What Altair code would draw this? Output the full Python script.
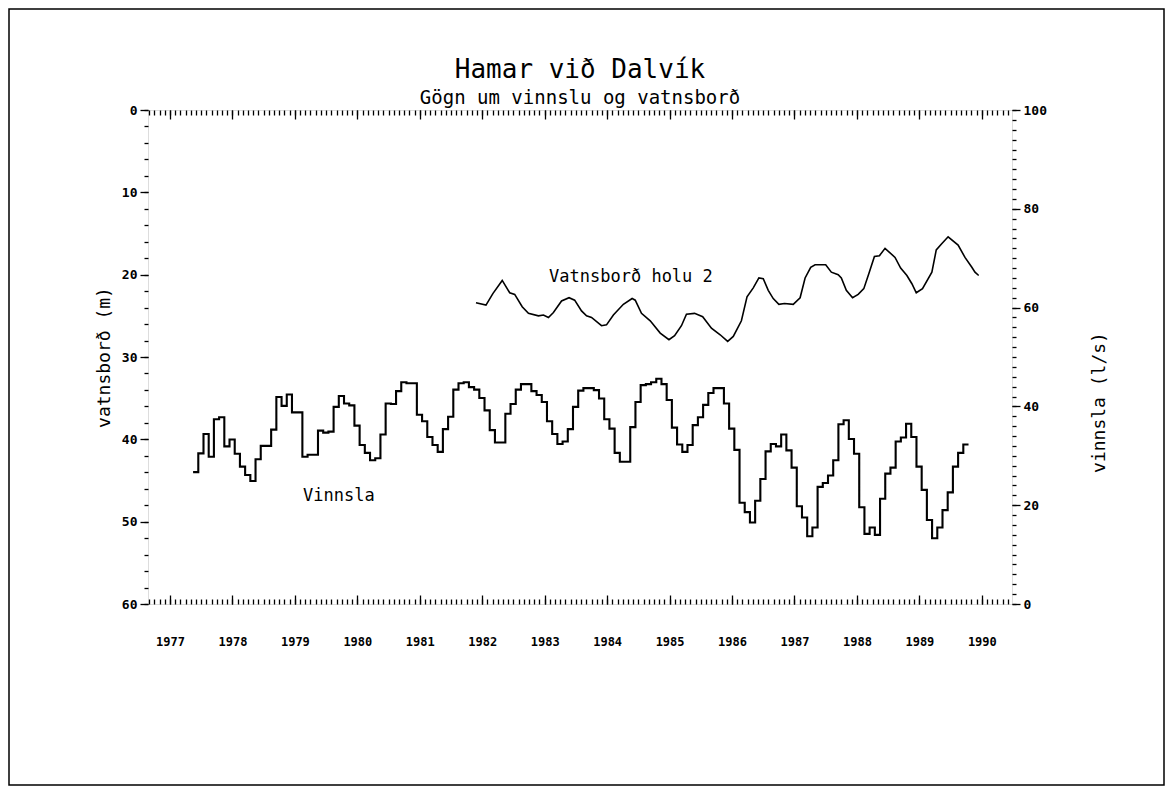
import altair as alt
import pandas as pd

TITLE = "Hamar við Dalvík"
SUBTITLE = "Gögn um vinnslu og vatnsborð"
LEFT_TITLE = "vatnsborð (m)"
RIGHT_TITLE = "vinnsla (l/s)"
LABEL_VB = "Vatnsborð holu 2"
LABEL_VIN = "Vinnsla"

YEARS = list(range(1977, 1991))
X_DOMAIN = [1976.648, 1990.483]
DEPTH_TICKS = [0, 10, 20, 30, 40, 50, 60]
FLOW_TICKS = [0, 20, 40, 60, 80, 100]

# Monthly production (l/s), first month May 1977
VIN_START = 1977.37
VINNSLA = [
    26.7, 30.5, 34.4, 29.8, 37.4, 37.8, 31.9, 33.3, 30.4, 27.8, 26.1, 24.9,
    29.3, 32.0, 32.0, 35.3, 41.9, 40.1, 42.4, 38.8, 38.8, 29.8, 30.2, 30.2,
    35.1, 34.7, 34.9, 39.9, 42.1, 40.6, 40.2, 36.1, 32.2, 30.6, 29.1, 29.5,
    34.3, 40.6, 40.5, 43.1, 44.9, 44.7, 44.7, 38.3, 37.0, 33.8, 32.2, 30.8,
    35.4, 37.9, 43.4,
    44.7, 44.9, 43.9, 43.4, 41.7, 39.2, 35.2, 32.7, 32.7, 38.5, 40.5, 43.4,
    44.5, 44.5, 43.1, 42.3, 40.9, 37.0, 34.4, 32.4, 32.9, 35.4, 39.9, 43.2,
    43.7, 43.7, 43.3, 41.6, 37.4, 35.5, 30.6, 28.8, 28.8, 35.8, 40.9, 44.3,
    44.5, 44.9, 45.6, 44.5, 41.3, 35.7, 32.3, 30.8, 32.2, 36.2, 37.8, 40.3,
    42.7, 43.7, 43.7, 40.6, 35.5, 31.2,
    20.5, 18.6, 16.5, 20.9, 25.3, 30.9, 32.4, 31.9, 34.3, 31.1, 27.6, 19.8,
    17.5, 13.7, 15.5, 23.7, 24.5, 26.0, 29.1, 36.4, 37.2, 33.4, 30.4, 19.6,
    14.2, 15.5, 14.0, 21.3, 26.4, 27.6, 32.9, 33.7, 36.5, 33.8, 27.8, 23.1,
    17.0, 13.3, 15.5, 19.0, 22.6, 27.8, 30.6, 32.3,
]

# Water level in well 2 (m below surface)
VB_T = [
    1981.90, 1982.06, 1982.17, 1982.32, 1982.44, 1982.52, 1982.64, 1982.74,
    1982.90, 1982.98, 1983.06, 1983.14, 1983.27, 1983.39, 1983.48, 1983.59, 1983.67, 1983.75,
    1983.91, 1983.99, 1984.10, 1984.26, 1984.40, 1984.45, 1984.55, 1984.69, 1984.85,
    1984.99, 1985.08, 1985.19, 1985.27, 1985.40, 1985.53, 1985.67, 1985.81,
    1985.93, 1986.02, 1986.15, 1986.24, 1986.34, 1986.43, 1986.50, 1986.58, 1986.66, 1986.75, 1986.84,
    1986.98, 1987.09, 1987.17, 1987.26, 1987.33, 1987.50, 1987.59, 1987.70, 1987.75, 1987.83,
    1987.93, 1988.02, 1988.11, 1988.19, 1988.28, 1988.36, 1988.45, 1988.61, 1988.70, 1988.80, 1988.88,
    1988.95, 1989.05, 1989.20, 1989.27, 1989.35, 1989.46, 1989.62, 1989.73, 1989.84, 1989.89,
    1989.95,
]
VB_D = [
    23.4, 23.7, 22.3, 20.7, 22.2, 22.4, 23.9, 24.7,
    25.0, 24.9, 25.2, 24.6, 23.2, 22.8, 23.1, 24.4, 25.0, 25.2,
    26.2, 26.1, 24.9, 23.6, 22.9, 23.1, 24.7, 25.6, 27.1,
    27.9, 27.4, 26.2, 24.8, 24.7, 25.1, 26.5, 27.3,
    28.1, 27.5, 25.6, 22.7, 21.6, 20.4, 20.5, 21.9, 22.9, 23.6, 23.5,
    23.6, 22.8, 20.4, 19.1, 18.8, 18.8, 19.7, 20.0, 20.4, 21.9,
    22.8, 22.4, 21.7, 19.9, 17.8, 17.7, 16.8, 17.9, 19.2, 20.1, 21.1,
    22.2, 21.7, 19.7, 17.0, 16.3, 15.4, 16.4, 17.9, 19.1, 19.7,
    20.1,
]

# in-chart labels (data coordinates: year, depth in m)
LABEL_VB_POS = (1983.07, 20.3)
LABEL_VIN_POS = (1979.13, 46.9)

FONT = "DejaVu Sans Mono"

# ---- data tables ----
vin_t = [round(VIN_START + i / 12.0, 4) for i in range(len(VINNSLA) + 1)]
vin_df = pd.DataFrame({"t": vin_t, "q": VINNSLA + [VINNSLA[-1]]})
vb_df = pd.DataFrame({"t": VB_T, "d": VB_D})
month_ticks = [round(1977 + k / 12.0, 4) for k in range(-6, 172)
               if X_DOMAIN[0] <= 1977 + k / 12.0 <= X_DOMAIN[1]]
depth_minor = list(range(0, 61, 2))
flow_minor = list(range(0, 101, 2))

xs = alt.Scale(domain=X_DOMAIN, nice=False, zero=False)
ys_flow = alt.Scale(domain=[0, 100], nice=False, zero=True)
ys_depth = alt.Scale(domain=[0, 60], nice=False, reverse=True)

tick_font = dict(labelFont=FONT, labelFontSize=13, labelFontWeight="bold",
                 labelColor="black", tickColor="black", tickWidth=1.3,
                 domain=False, grid=False)
title_font = dict(titleFont=FONT, titleFontSize=18, titleFontWeight="normal",
                  titleColor="black")

vin = alt.Chart(vin_df).mark_line(interpolate="step-after", color="black",
                                  strokeWidth=2.1).encode(
    x=alt.X("t:Q", scale=xs, axis=alt.Axis(
        orient="bottom", values=YEARS, format="d", tickSize={"expr": "-9"},
        labelAlign="center", labelBaseline="top", labelPadding=41,
        labelFlush=False, labelOverlap=False, title=None,
        **{**tick_font, "labelFontSize": 12})),
    y=alt.Y("q:Q", scale=ys_flow, axis=alt.Axis(
        orient="right", values=FLOW_TICKS, tickSize=8, labelPadding=3,
        labelOverlap=False, title=RIGHT_TITLE, titleAngle=270, titleY=292,
        titlePadding=62, **title_font, **tick_font)),
)

vb = alt.Chart(vb_df).mark_line(color="black", strokeWidth=1.6).encode(
    x=alt.X("t:Q", scale=xs, axis=alt.Axis(
        orient="top", values=YEARS, tickSize={"expr": "-9"}, labels=False,
        title=None, **tick_font)),
    y=alt.Y("d:Q", scale=ys_depth, axis=alt.Axis(
        orient="left", values=DEPTH_TICKS, tickSize=8, labelPadding=3,
        labelOverlap=False, title=LEFT_TITLE, titlePadding=8,
        **title_font, **tick_font)),
)

minor_a = alt.Chart(vb_df).mark_point(opacity=0).encode(
    x=alt.X("t:Q", scale=xs, axis=alt.Axis(
        orient="top", values=month_ticks, tickSize={"expr": "-5"},
        labels=False, title=None, **tick_font)),
    y=alt.Y("d:Q", scale=ys_depth, axis=alt.Axis(
        orient="left", values=depth_minor, tickSize=4, labels=False,
        title=None, **tick_font)),
)

minor_b = alt.Chart(vin_df).mark_point(opacity=0).encode(
    x=alt.X("t:Q", scale=xs, axis=alt.Axis(
        orient="bottom", values=month_ticks, tickSize={"expr": "-5"},
        labels=False, title=None, **tick_font)),
    y=alt.Y("q:Q", scale=ys_flow, axis=alt.Axis(
        orient="right", values=flow_minor, tickSize=4, labels=False,
        title=None, **tick_font)),
)

lab_df = pd.DataFrame({
    "t": [LABEL_VB_POS[0], LABEL_VIN_POS[0]],
    "d": [LABEL_VB_POS[1], LABEL_VIN_POS[1]],
    "label": [LABEL_VB, LABEL_VIN],
})
labels = alt.Chart(lab_df).mark_text(align="left", baseline="middle", font=FONT,
                                     fontSize=17, color="black").encode(
    x=alt.X("t:Q", scale=xs, axis=None),
    y=alt.Y("d:Q", scale=ys_depth, axis=None),
    text="label:N",
)

frame = alt.Chart(pd.DataFrame({"a": [0]})).mark_rect(
    fill="white", fillOpacity=0, stroke="black", strokeWidth=1.5).encode(
    x=alt.value(-139), x2=alt.value(1016), y=alt.value(-101), y2=alt.value(675))

chart = alt.layer(frame, minor_a, minor_b, vb, vin, labels).resolve_scale(
    y="independent"
).resolve_axis(
    x="independent", y="independent"
).properties(
    width=864, height=494,
    title=alt.TitleParams(text=TITLE, subtitle=SUBTITLE, font=FONT, fontSize=26,
                          fontWeight="normal", subtitleFont=FONT,
                          subtitleFontSize=19, subtitleColor="black",
                          color="black", anchor="middle", frame="group",
                          offset=-100, subtitlePadding=6),
    autosize=alt.AutoSizeParams(type="none"),
    padding={"left": 140, "top": 102, "right": 153, "bottom": 182},
).configure_view(stroke="black", strokeWidth=1.5).configure(background="white")

chart.save("out.html", embed_options={"renderer": "svg", "actions": False})
